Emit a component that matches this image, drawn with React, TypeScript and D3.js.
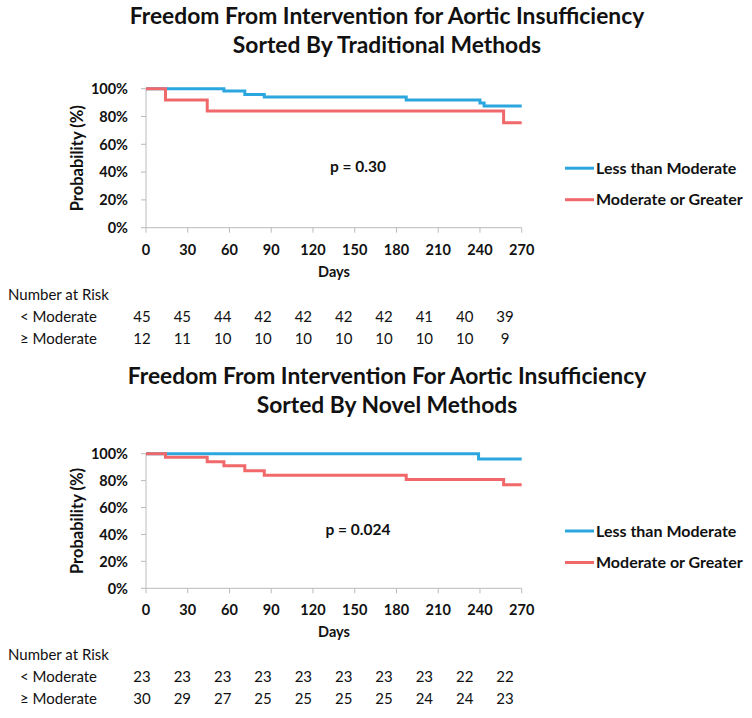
import React from 'react'
import * as d3 from 'd3'

// ticks / categories
const dayTicks = [0, 30, 60, 90, 120, 150, 180, 210, 240, 270]
const pctTicks = [0, 20, 40, 60, 80, 100]
const groups = ['Less than Moderate', 'Moderate or Greater']
const riskLabels = ['< Moderate', '≥ Moderate']

// top panel: traditional methods
const tradLessDays = [0, 56, 71, 85, 187, 240, 243, 270]
const tradLessSurv = [100, 98.3, 95.9, 94.0, 91.8, 89.7, 87.5, 87.5]
const tradModDays = [0, 14, 44, 257, 270]
const tradModSurv = [100, 91.8, 83.9, 75.5, 75.5]
const tradRiskLess = [45, 45, 44, 42, 42, 42, 42, 41, 40, 39]
const tradRiskMod = [12, 11, 10, 10, 10, 10, 10, 10, 10, 9]

// bottom panel: novel methods
const novelLessDays = [0, 239, 270]
const novelLessSurv = [100, 96.0, 96.0]
const novelModDays = [0, 14, 44, 56, 71, 85, 187, 257, 270]
const novelModSurv = [100, 97.3, 94.1, 91.1, 87.4, 83.9, 80.9, 77.0, 77.0]
const novelRiskLess = [23, 23, 23, 23, 23, 23, 23, 23, 22, 22]
const novelRiskMod = [30, 29, 27, 25, 25, 25, 25, 24, 24, 23]

const colors = ['#2ba6de', '#f0686a']
const font = 'Lato, "Open Sans", sans-serif'

type Panel = {
  top: number
  title: string[]
  pText: string
  curves: { days: number[]; surv: number[] }[]
  risk: number[][]
  plotTop: number
  plotBottom: number
}

const panels: Panel[] = [
  {
    top: 0,
    title: ['Freedom From Intervention for Aortic Insufficiency', 'Sorted By Traditional Methods'],
    pText: 'p = 0.30',
    curves: [{ days: tradLessDays, surv: tradLessSurv }, { days: tradModDays, surv: tradModSurv }],
    risk: [tradRiskLess, tradRiskMod],
    plotTop: 88.7,
    plotBottom: 227.7,
  },
  {
    top: 360,
    title: ['Freedom From Intervention For Aortic Insufficiency', 'Sorted By Novel Methods'],
    pText: 'p = 0.024',
    curves: [{ days: novelLessDays, surv: novelLessSurv }, { days: novelModDays, surv: novelModSurv }],
    risk: [novelRiskLess, novelRiskMod],
    plotTop: 453.7,
    plotBottom: 588.3,
  },
]

const KMPanel = ({ p }: { p: Panel }) => {
  const x = d3.scaleLinear().domain([0, 270]).range([146, 521.7])
  const y = d3.scaleLinear().domain([0, 100]).range([p.plotBottom, p.plotTop])
  const riskX = d3.scalePoint<number>().domain(dayTicks).range([142, 505])
  const line = d3.line<[number, number]>()
    .x(d => x(d[0]))
    .y(d => y(d[1]))
    .curve(d3.curveStepAfter)

  const axisY = p.plotBottom
  const off = p.top
  const legendY0 = (p.plotTop + p.plotBottom) / 2 + 10

  return (
    <g>
      {p.title.map((t, i) => (
        <text key={t} x={387} y={off + 24 + i * 29} textAnchor="middle" fontFamily={font}
          fontWeight="bold" fontSize={22.8} fill="#111">{t}</text>
      ))}
      {/* axes */}
      <line x1={x(0)} x2={x(0)} y1={y(100)} y2={y(0)} stroke="#bbb" strokeWidth={1} />
      <line x1={x(0)} x2={x(270)} y1={y(0)} y2={y(0)} stroke="#bbb" strokeWidth={1} />
      {pctTicks.map(t => (
        <g key={'y' + t}>
          <line x1={x(0) - 5} x2={x(0)} y1={y(t)} y2={y(t)} stroke="#bbb" />
          <text x={x(0) - 18} y={y(t)} dy="0.36em" textAnchor="end" fontFamily={font}
            fontWeight="bold" fontSize={14.5} fill="#111">{t + '%'}</text>
        </g>
      ))}
      {dayTicks.map(t => (
        <g key={'x' + t}>
          <line x1={x(t)} x2={x(t)} y1={axisY} y2={axisY + 5} stroke="#bbb" />
          <text x={x(t)} y={axisY + 27} textAnchor="middle" fontFamily={font}
            fontWeight="bold" fontSize={14.5} fill="#111">{t}</text>
        </g>
      ))}
      <text x={334} y={axisY + 49} textAnchor="middle" fontFamily={font} fontWeight="bold"
        fontSize={14.5} fill="#111">Days</text>
      <text transform={`translate(83, ${(p.plotTop + p.plotBottom) / 2}) rotate(-90)`}
        textAnchor="middle" fontFamily={font} fontWeight="bold" fontSize={16.5} fill="#111">
        Probability (%)
      </text>
      {/* curves */}
      {p.curves.map((c, i) => (
        <path key={i} d={line(c.days.map((d, j) => [d, c.surv[j]] as [number, number])) || ''}
          fill="none" stroke={colors[i]} strokeWidth={3} />
      ))}
      <text x={358} y={(p.plotTop + p.plotBottom) / 2 + 14} textAnchor="middle" fontFamily={font}
        fontWeight="bold" fontSize={15.5} fill="#111">{p.pText}</text>
      {/* legend */}
      {groups.map((g, i) => (
        <g key={g} transform={`translate(565, ${legendY0 + i * 31.5})`}>
          <line x1={0} x2={29} y1={0} y2={0} stroke={colors[i]} strokeWidth={3} />
          <text x={31} y={0} dy="0.36em" fontFamily={font} fontWeight="bold" fontSize={16}
            fill="#111">{g}</text>
        </g>
      ))}
      {/* number at risk */}
      <text x={8} y={off + 300} fontFamily={font} fontSize={15} fill="#111">Number at Risk</text>
      {riskLabels.map((l, i) => (
        <g key={l}>
          <text x={20} y={off + 322 + i * 22} fontFamily={font} fontSize={15} fill="#111">{l}</text>
          {p.risk[i].map((v, j) => (
            <text key={j} x={riskX(dayTicks[j])} y={off + 322 + i * 22} textAnchor="middle"
              fontFamily={font} fontSize={15} fill="#111">{v}</text>
          ))}
        </g>
      ))}
    </g>
  )
}

export default function App() {
  return (
    <svg width={752} height={718} style={{ position: 'absolute', left: 0, top: 0, background: '#fff' }}>
      {panels.map((p, i) => <KMPanel key={i} p={p} />)}
    </svg>
  )
}
